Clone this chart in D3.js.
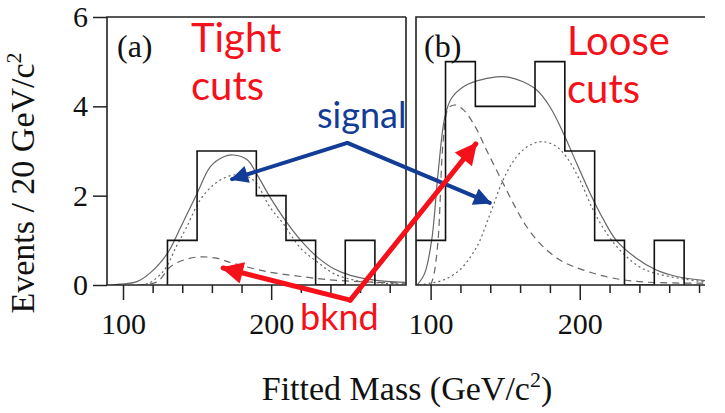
<!DOCTYPE html>
<html>
<head>
<meta charset="utf-8">
<script src="https://cdn.jsdelivr.net/npm/d3@7"></script>
<style>
  body { margin: 0; background: #fff; }
  svg { display: block; }
  .tick text { font-family: "Liberation Serif", "DejaVu Serif", serif; font-size: 30px; fill: #111; }
  .tick line { stroke: #222; stroke-width: 1.5; }
</style>
</head>
<body>
<div id="chart"></div>
<script>
// histogram bins: lower edge of each 20 GeV bin and its count
let binEdgesA = [130, 150, 170, 190, 210, 230, 250];
let countsA   = [1, 3, 3, 2, 1, 0, 1];
let binEdgesB = [90, 110, 130, 150, 170, 190, 210, 230, 250];
let countsB   = [1, 5, 4, 4, 5, 3, 1, 0, 1];
let binWidth = 20;

// fitted curves: [mass, events]
let totalA = [[93,0],[98,0.02],[109,0.07],[118,0.26],[130,0.71],[139,1.3],[150,2.05],[159,2.65],[168,2.87],[174.5,2.91],[184,2.8],[190,2.5],[199,1.98],[211,1.38],[220,1.0],[231,0.63],[242,0.37],[253,0.22],[265,0.13],[278,0.08],[291,0.06]];
let signalA = [[112,0],[118,0.05],[128,0.34],[136,0.86],[143,1.3],[152,1.9],[161,2.24],[170,2.42],[177,2.47],[184,2.43],[190,2.28],[199,1.75],[208,1.38],[220,0.82],[231,0.52],[242,0.26],[256,0.11],[276,0.04],[291,0.02]];
let bkgA = [[110,0],[123,0.07],[132,0.41],[141,0.56],[152,0.63],[163,0.6],[174,0.49],[197,0.3],[220,0.19],[242,0.11],[265,0.07],[291,0.04]];

let totalB = [[91,0],[96,0.26],[100.7,1.0],[105,2.5],[109.6,3.77],[114,4.18],[122,4.44],[131,4.57],[144,4.66],[153,4.65],[162,4.55],[171,4.37],[180,3.99],[189,3.4],[198,2.72],[207,2.05],[216,1.46],[224.5,1.0],[238,0.6],[251,0.34],[265,0.19],[284,0.1]];
let signalB = [[92,0],[99.5,0.04],[108.5,0.11],[119.6,0.34],[131,0.86],[140,1.6],[148.6,2.35],[157.6,2.87],[166.5,3.13],[175.4,3.21],[184.3,3.1],[191,2.87],[200,2.35],[209,1.68],[218,1.16],[229,0.71],[242,0.37],[260,0.19],[284,0.07]];
let bkgB = [[100,0],[102,0.2],[105,1.0],[108.5,3.25],[112,3.96],[116.3,4.03],[122,3.92],[130,3.54],[137.5,3.02],[146.5,2.42],[155.4,1.83],[164.3,1.31],[175.4,0.86],[188.8,0.52],[202,0.34],[220,0.17],[242,0.07],[284,0.04]];

let yTicks = [0, 2, 4, 6];
let xMajor = [100, 200];
let xMinor = [120, 140, 160, 180, 220, 240, 260, 280];

// annotation arrows in data coordinates: [panel, mass, events]
let signalArrows = { vertex: ["a", 251.4, 3.18], tips: [["a", 173.6, 2.37], ["b", 139.7, 1.84]] };
let bkndArrows   = { vertex: ["a", 253.4, -0.34], tips: [["a", 167.6, 0.38], ["b", 130.3, 3.16]] };

let width = 725, height = 413;

let svg = d3.select("#chart").append("svg")
  .attr("width", width)
  .attr("height", height);

let y = d3.scaleLinear().domain([0, 6]).range([285, 17]);
let xA = d3.scaleLinear().domain([89.2, 291]).range([107, 406]);
let xB = d3.scaleLinear().domain([90.2, 284]).range([416, 705]);
let scales = { a: xA, b: xB };

svg.append("clipPath").attr("id", "clipA").append("rect")
  .attr("x", 107).attr("y", 17).attr("width", 299).attr("height", 268);
svg.append("clipPath").attr("id", "clipB").append("rect")
  .attr("x", 416).attr("y", 17).attr("width", 289).attr("height", 268);

// step outline, no inner walls between neighbouring bins
function drawHist(g, x, edges, counts)
{
  let pts = [[x(edges[0]), y(0)]];
  edges.forEach((e, i) => {
    pts.push([x(e), y(counts[i])]);
    pts.push([x(e + binWidth), y(counts[i])]);
  });
  pts.push([x(edges[edges.length - 1] + binWidth), y(0)]);
  g.append("path")
    .attr("d", d3.line()(pts))
    .attr("fill", "none")
    .attr("stroke", "#111")
    .attr("stroke-width", 1.6);
}

function drawCurve(g, x, data, dash)
{
  let line = d3.line()
    .x(d => x(d[0]))
    .y(d => y(d[1]))
    .curve(d3.curveCatmullRom);
  g.append("path")
    .datum(data)
    .attr("d", line)
    .attr("fill", "none")
    .attr("stroke", "#666")
    .attr("stroke-width", 1.2)
    .attr("stroke-dasharray", dash);
}

function drawPanel(id, x, edges, counts, total, signal, bkg, frameRight)
{
  let g = svg.append("g").attr("clip-path", "url(#clip" + id + ")");
  drawCurve(g, x, bkg, "7,5");
  drawCurve(g, x, signal, "2,3");
  drawCurve(g, x, total, null);
  drawHist(g, x, edges, counts);

  // frame
  let [x0, x1] = x.range();
  let frame = [[x1, y(6)], [x0, y(6)], [x0, y(0)], [x1, y(0)]];
  if (frameRight) frame.push([x1, y(6)]);
  svg.append("path")
    .attr("d", d3.line()(frame))
    .attr("fill", "none")
    .attr("stroke", "#222")
    .attr("stroke-width", 1.6);

  let major = svg.append("g")
    .attr("transform", "translate(0," + y(0) + ")")
    .call(d3.axisBottom(x).tickValues(xMajor).tickSize(15).tickSizeOuter(0));
  major.select(".domain").remove();
  major.selectAll("text").attr("y", 49).attr("dy", 0);

  let minor = svg.append("g")
    .attr("transform", "translate(0," + y(0) + ")")
    .call(d3.axisBottom(x).tickValues(xMinor).tickSize(8).tickFormat(""));
  minor.select(".domain").remove();
}

drawPanel("A", xA, binEdgesA, countsA, totalA, signalA, bkgA, true);
drawPanel("B", xB, binEdgesB, countsB, totalB, signalB, bkgB, false);

let yAxis = svg.append("g")
  .attr("transform", "translate(" + xA.range()[0] + ",0)")
  .call(d3.axisLeft(y).tickValues(yTicks).tickFormat(d3.format("d"))
    .tickSize(14).tickPadding(5).tickSizeOuter(0));
yAxis.select(".domain").remove();

// panel tags
let serif = "'Liberation Serif', 'DejaVu Serif', serif";
svg.append("text").attr("x", 117).attr("y", 57)
  .style("font-family", serif).style("font-size", "32px").attr("fill", "#111").text("(a)");
svg.append("text").attr("x", 424).attr("y", 57)
  .style("font-family", serif).style("font-size", "32px").attr("fill", "#111").text("(b)");

// axis titles
let xt = svg.append("text")
  .attr("x", 407).attr("y", 400)
  .attr("text-anchor", "middle")
  .style("font-family", serif).style("font-size", "34px").attr("fill", "#111");
xt.append("tspan").text("Fitted Mass (GeV/c");
xt.append("tspan").attr("dy", -13).style("font-size", "22px").text("2");
xt.append("tspan").attr("dy", 13).text(")");

let yt = svg.append("text")
  .attr("transform", "translate(34,183) rotate(-90)")
  .attr("text-anchor", "middle")
  .style("font-family", serif).style("font-size", "34px").attr("fill", "#111");
yt.append("tspan").text("Events / 20 GeV/c");
yt.append("tspan").attr("dy", -13).style("font-size", "22px").text("2");

// annotations
let sans = "Lato, 'Open Sans', sans-serif";
let red = "#f4111a", blue = "#123c95";

function addLabel(x, yy, lines, color, size)
{
  lines.forEach((t, i) => {
    svg.append("text")
      .attr("x", x).attr("y", yy + i * 48)
      .style("font-family", sans).style("font-size", size + "px")
      .attr("fill", color).text(t);
  });
}
addLabel(191, 52, ["Tight", "cuts"], red, 40);
addLabel(567, 55, ["Loose", "cuts"], red, 40);
addLabel(317, 128, ["signal"], blue, 36);
addLabel(300, 330, ["bknd"], red, 36);

let defs = svg.append("defs");
function marker(id, color)
{
  defs.append("marker")
    .attr("id", id)
    .attr("viewBox", "0 0 10 10")
    .attr("refX", 9).attr("refY", 5)
    .attr("markerWidth", 5).attr("markerHeight", 4.4)
    .attr("markerUnits", "strokeWidth")
    .attr("orient", "auto")
    .append("path").attr("d", "M0,0 L10,5 L0,10 z").attr("fill", color);
}
marker("arrBlue", blue);
marker("arrRed", red);

function pt(p) { return [scales[p[0]](p[1]), y(p[2])]; }

function drawArrows(spec, color, markerId, w)
{
  spec.tips.forEach(tip => {
    svg.append("path")
      .attr("d", d3.line()([pt(spec.vertex), pt(tip)]))
      .attr("stroke", color)
      .attr("stroke-width", w)
      .attr("fill", "none")
      .attr("stroke-linecap", "round")
      .attr("marker-end", "url(#" + markerId + ")");
  });
}
drawArrows(signalArrows, blue, "arrBlue", 4);
drawArrows(bkndArrows, red, "arrRed", 5);
</script>
</body>
</html>
